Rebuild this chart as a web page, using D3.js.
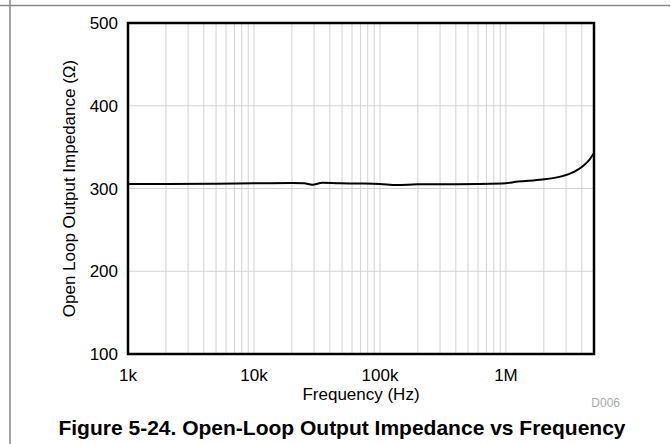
<!DOCTYPE html>
<html>
<head>
<meta charset="utf-8">
<script src="https://d3js.org/d3.v7.min.js"></script>
<style>
  body { margin: 0; background: #fff; }
  text { font-family: Arial, "Liberation Sans", sans-serif; }
</style>
</head>
<body>
<div id="chart"></div>
<script>
// impedance curve
var freqs = [1e3, 2e3, 5e3, 1e4, 2e4, 2.5e4, 2.9e4, 3.5e4, 4.8e4, 7e4, 1e5, 1.36e5, 2e5, 4e5, 9.3e5, 1.25e6, 1.95e6, 2.8e6, 3.5e6, 4e6, 4.5e6, 5e6];
var ohms  = [305.5, 305.5, 305.8, 306.2, 306.6, 306.4, 304.6, 307, 306.2, 306, 305.5, 304.3, 305, 305, 306, 308.4, 311, 315, 320.5, 326, 333, 343];
var yTicks = [100, 200, 300, 400, 500];
var xTicks = [1e3, 1e4, 1e5, 1e6];
var xTickLabels = ["1k", "10k", "100k", "1M"];

var W = 671, H = 444;
var margin = {top: 23, right: 77, bottom: 90, left: 128};
var w = W - margin.left - margin.right,
    h = H - margin.top - margin.bottom;

var svg = d3.select("#chart").append("svg")
  .attr("width", W).attr("height", H);

// page frame
svg.append("line").attr("x1", 0).attr("x2", 670).attr("y1", 5.5).attr("y2", 5.5)
  .style("stroke", "#888").style("stroke-width", 1.5);
svg.append("line").attr("x1", 10).attr("x2", 10).attr("y1", 0).attr("y2", H)
  .style("stroke", "#888").style("stroke-width", 1.5);

var g = svg.append("g").attr("transform", "translate(" + margin.left + "," + margin.top + ")");

var x = d3.scaleLog().domain([1e3, 5e6]).range([0, w]);
var y = d3.scaleLinear().domain([100, 500]).range([h, 0]);

// vertical grid (1..9 per decade)
var vgrid = [];
for (var d = 1e3; d < 5e6; d *= 10) {
  for (var k = 1; k < 10; k++) {
    if (d * k > 1e3 && d * k < 5e6) vgrid.push(d * k);
  }
}
g.selectAll(".vg").data(vgrid).enter().append("line")
  .attr("x1", function(v) { return x(v); }).attr("x2", function(v) { return x(v); })
  .attr("y1", 0).attr("y2", h)
  .style("stroke", "#d3d3d3").style("stroke-width", 1);

g.selectAll(".hg").data(yTicks.slice(1, -1)).enter().append("line")
  .attr("x1", 0).attr("x2", w)
  .attr("y1", function(v) { return y(v); }).attr("y2", function(v) { return y(v); })
  .style("stroke", "#d3d3d3").style("stroke-width", 1);

// curve
var line = d3.line()
  .x(function(d) { return x(d[0]); })
  .y(function(d) { return y(d[1]); })
  .curve(d3.curveMonotoneX);
g.append("path").datum(d3.zip(freqs, ohms))
  .attr("d", line)
  .style("fill", "none").style("stroke", "#000").style("stroke-width", 2);

// frame
g.append("rect").attr("width", w).attr("height", h)
  .style("fill", "none").style("stroke", "#000").style("stroke-width", 2.5);

// tick labels
g.selectAll(".yl").data(yTicks).enter().append("text")
  .attr("x", -10).attr("y", function(v) { return y(v); })
  .attr("dy", "0.36em").attr("text-anchor", "end")
  .style("font-size", "17px").text(function(v) { return v; });

g.selectAll(".xl").data(xTicks).enter().append("text")
  .attr("x", function(v) { return x(v); }).attr("y", h + 27)
  .attr("text-anchor", "middle")
  .style("font-size", "17px").text(function(v, i) { return xTickLabels[i]; });

// axis titles
g.append("text").attr("x", w / 2).attr("y", h + 46)
  .attr("text-anchor", "middle").style("font-size", "17px").text("Frequency (Hz)");

svg.append("text")
  .attr("transform", "translate(75," + (margin.top + h / 2) + ") rotate(-90)")
  .attr("text-anchor", "middle").style("font-size", "17px")
  .text("Open Loop Output Impedance (\u03A9)");

svg.append("text").attr("x", 620).attr("y", 407).attr("text-anchor", "end")
  .style("font-size", "12px").style("fill", "#aaa").text("D006");

svg.append("text").attr("x", 342).attr("y", 435).attr("text-anchor", "middle")
  .style("font-size", "21px").style("font-weight", "bold")
  .text("Figure 5-24. Open-Loop Output Impedance vs Frequency");
</script>
</body>
</html>
